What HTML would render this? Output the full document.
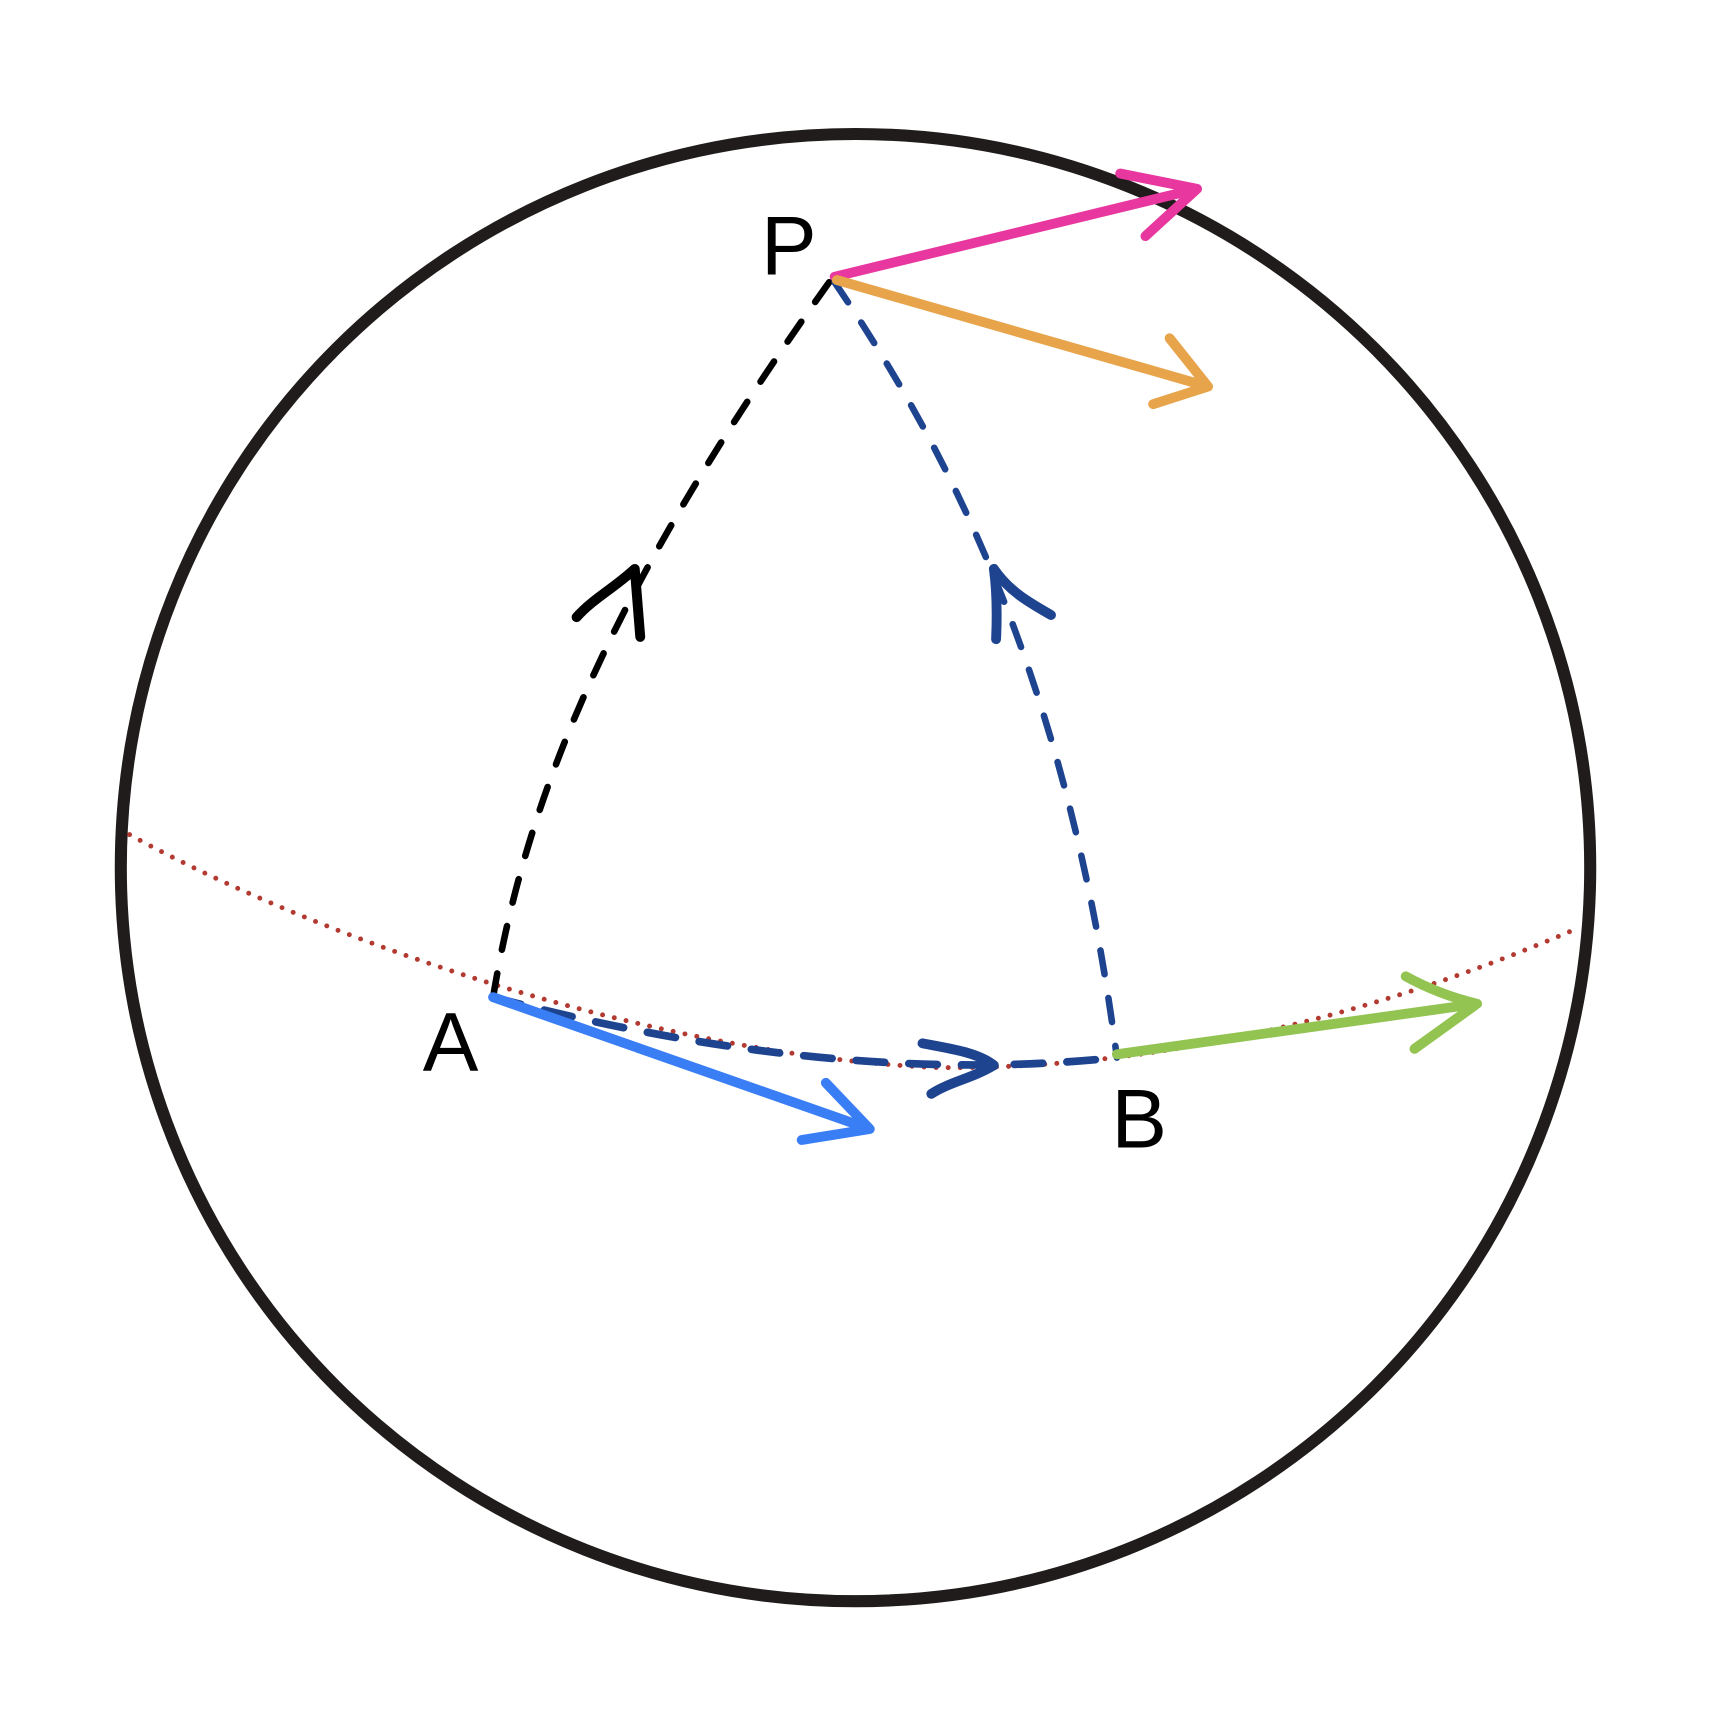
<!DOCTYPE html>
<html><head><style>html,body{margin:0;padding:0;background:#fff}svg{display:block}</style></head>
<body>
<svg width="1722" height="1715" viewBox="0 0 1568 1561.6" preserveAspectRatio="none" xmlns="http://www.w3.org/2000/svg">
<rect width="1568" height="1562" fill="#fff"/>
<ellipse cx="779" cy="790" rx="669" ry="668" fill="none" stroke="#1f1c1b" stroke-width="11"/>
<path d="M118,760 C300,860 600,960 850,972 C1050,975 1250,925 1430,848" fill="none" stroke="#b23a30" stroke-width="4.5" stroke-dasharray="0 11" stroke-linecap="round"/>
<path d="M449,908 C480,720 560,530 755,257" fill="none" stroke="#000" stroke-width="6" stroke-dasharray="22 22" stroke-linecap="round"/>
<path d="M525,562 C540,545 560,535 578,518 L583,580" fill="none" stroke="#000" stroke-width="9" stroke-linecap="round" stroke-linejoin="round"/>
<path d="M760,257 C850,390 970,600 1017,963" fill="none" stroke="#1e4490" stroke-width="6" stroke-dasharray="22 22" stroke-linecap="round"/>
<path d="M907,582 C908,560 908,540 905,518 C920,540 940,550 957,560" fill="none" stroke="#1e4490" stroke-width="9" stroke-linecap="round" stroke-linejoin="round"/>
<path d="M449,908 Q760,990 1017,963" fill="none" stroke="#1e4490" stroke-width="7" stroke-dasharray="26 22" stroke-linecap="round"/>
<path d="M840,950 C865,955 890,958 905,970 C885,982 865,985 848,996" fill="none" stroke="#1e4490" stroke-width="9" stroke-linecap="round" stroke-linejoin="round"/>
<g fill="none" stroke-linecap="round" stroke-linejoin="round" stroke-width="9">
<path d="M760,252 L1090,172 M1020,158 L1090,172 L1043,215" stroke="#e8379f"/>
<path d="M762,255 L1100,352 M1065,308 L1100,352 L1050,368" stroke="#e8a44a"/>
<path d="M449,908 L792,1028 M752,986 L792,1028 L730,1038" stroke="#3a7ef5"/>
<path d="M1017,960 L1345,914 M1280,889 C1300,900 1320,908 1345,914 L1288,955" stroke="#93c452"/>
</g>
<g font-family="Liberation Sans, sans-serif" font-size="76" fill="#000">
<text x="693" y="250">P</text>
<text x="385" y="975">A</text>
<text x="1012" y="1045">B</text>
</g>
</svg>
</body></html>
